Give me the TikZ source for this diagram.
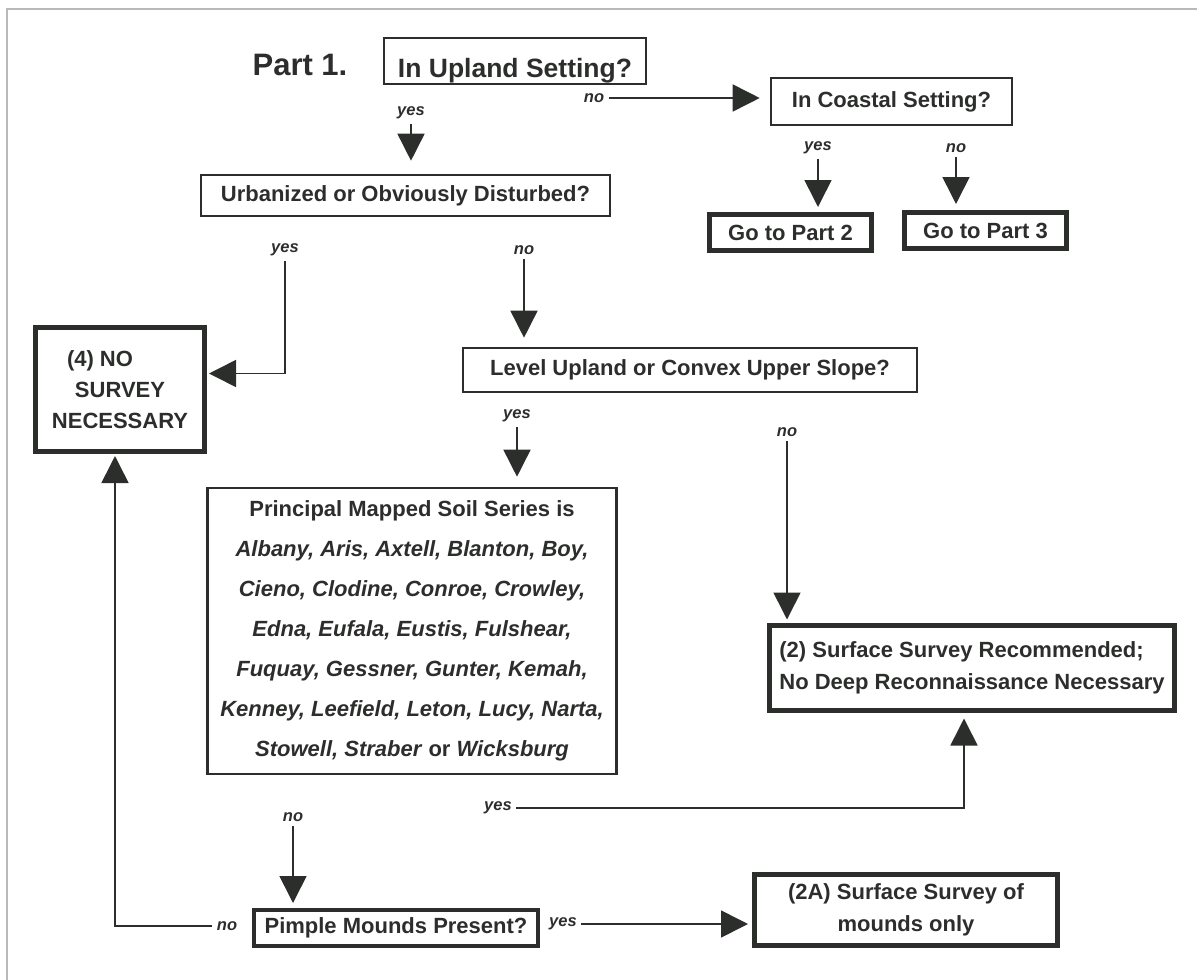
\documentclass[tikz,border=0pt]{standalone}
\usepackage{fontspec}
\setmainfont{Liberation Sans}
\usetikzlibrary{arrows.meta}
\definecolor{ink}{HTML}{2C2E2C}

\begin{document}
\begin{tikzpicture}[x=1pt,y=-1pt,
  box/.style={draw=ink,line width=2.6pt,inner sep=0pt,text=ink,align=center,
    font=\fontsize{22}{26}\selectfont\bfseries},
  heavybox/.style={box,line width=5pt},
  lbl/.style={text=ink,inner sep=1.5pt,font=\fontsize{16.5}{20}\selectfont\bfseries\itshape},
  arr/.style={draw=ink,line width=1.6pt,shorten <=3pt,-{Triangle[length=27pt,width=27pt]}}]
\useasboundingbox (0,0) rectangle (1197,980);
\draw[gray!55,line width=1.2pt] (7,980) -- (7,9) -- (1197,9);

% question boxes
\node[text=ink,font=\fontsize{31}{36}\selectfont\bfseries] (part) at (300,65) {Part 1.};
\node[box,minimum width=262pt,text height=39pt,text depth=7pt,
  font=\fontsize{26.5}{30}\selectfont\bfseries] (upland) at (515,61) {In Upland Setting?};
\node[box,minimum width=241pt,minimum height=47pt] (coast) at (891.5,101.5) {In Coastal Setting?};
\node[heavybox,minimum width=162pt,minimum height=36pt] (part2) at (790.5,232.5) {Go to Part 2};
\node[heavybox,minimum width=162pt,minimum height=36pt] (part3) at (985.5,230.5) {Go to Part 3};
\node[box,minimum width=409pt,minimum height=41pt] (urban) at (405.5,195.5) {Urbanized or Obviously Disturbed?};
\node[heavybox,minimum width=169pt,minimum height=124pt,
  font=\fontsize{22}{31}\selectfont\bfseries] (nosurvey) at (120,389.5)
  {(4) NO\hspace{40pt}\mbox{}\\SURVEY\\NECESSARY};
\node[box,minimum width=454pt,minimum height=44pt] (level) at (690,370) {Level Upland or Convex Upper Slope?};
\node[box,minimum width=409pt,minimum height=286pt,
  font=\fontsize{22}{40}\selectfont\bfseries] (soil) at (412,631)
  {Principal Mapped Soil Series is\\
   \textit{Albany, Aris, Axtell, Blanton, Boy,}\\
   \textit{Cieno, Clodine, Conroe, Crowley,}\\
   \textit{Edna, Eufala, Eustis, Fulshear,}\\
   \textit{Fuquay, Gessner, Gunter, Kemah,}\\
   \textit{Kenney, Leefield, Leton, Lucy, Narta,}\\
   \textit{Stowell, Straber} or \textit{Wicksburg}};
\node[heavybox,minimum width=405pt,minimum height=85pt,align=left,
  font=\fontsize{22}{32}\selectfont\bfseries] (surface) at (972,667.5)
  {(2) Surface Survey Recommended;\\No Deep Reconnaissance Necessary};
\node[heavybox,line width=4pt,minimum width=284pt,minimum height=36pt] (pimple) at (396,928) {Pimple Mounds Present?};
\node[heavybox,minimum width=303pt,minimum height=71pt,
  font=\fontsize{22}{32}\selectfont\bfseries] (mounds) at (906,910)
  {(2A) Surface Survey of\\mounds only};

% answer labels
\node[lbl] (upno) at (594,98) {no};
\node[lbl] (upyes) at (411,113) {yes};
\node[lbl] (cstyes) at (818,148) {yes};
\node[lbl] (cstno) at (956,148) {no};
\node[lbl] (urbyes) at (285,250) {yes};
\node[lbl] (urbno) at (524,250) {no};
\node[lbl] (lvlyes) at (517,416) {yes};
\node[lbl] (lvlno) at (787,432) {no};
\node[lbl] (soilyes) at (498,808) {yes};
\node[lbl] (soilno) at (293,817) {no};
\node[lbl] (pimno) at (227,926) {no};
\node[lbl] (pimyes) at (563,924) {yes};

% connectors
\draw[arr,shorten >=10pt] (upno.east) -- (upno.east -| coast.west);
\draw[arr,shorten >=13pt] (upyes.south) -- (upyes.south |- urban.north);
\draw[arr,shorten >=5pt] (cstyes.south) -- (cstyes.south |- part2.north);
\draw[arr,shorten >=6pt] (cstno.south) -- (cstno.south |- part3.north);
\draw[arr,shorten >=2pt] (urbyes.south) |- ([yshift=16pt]nosurvey.east);
\draw[arr,shorten >=9pt] (urbno.south) -- (urbno.south |- level.north);
\draw[arr,shorten >=10pt] (lvlyes.south) -- (lvlyes.south |- soil.north);
\draw[arr,shorten >=3pt] (lvlno.south) -- (lvlno.south |- surface.north);
\draw[arr,shorten >=6pt] (soilyes.east) -| ([xshift=-8pt]surface.south);
\draw[arr,shorten >=5pt] (soilno.south) -- (soilno.south |- pimple.north);
\draw[arr,shorten >=2pt] (pimno.west) -| ([xshift=-5pt]nosurvey.south);
\draw[arr,shorten >=4pt] (pimyes.east) -- (pimyes.east -| mounds.west);
\end{tikzpicture}
\end{document}
